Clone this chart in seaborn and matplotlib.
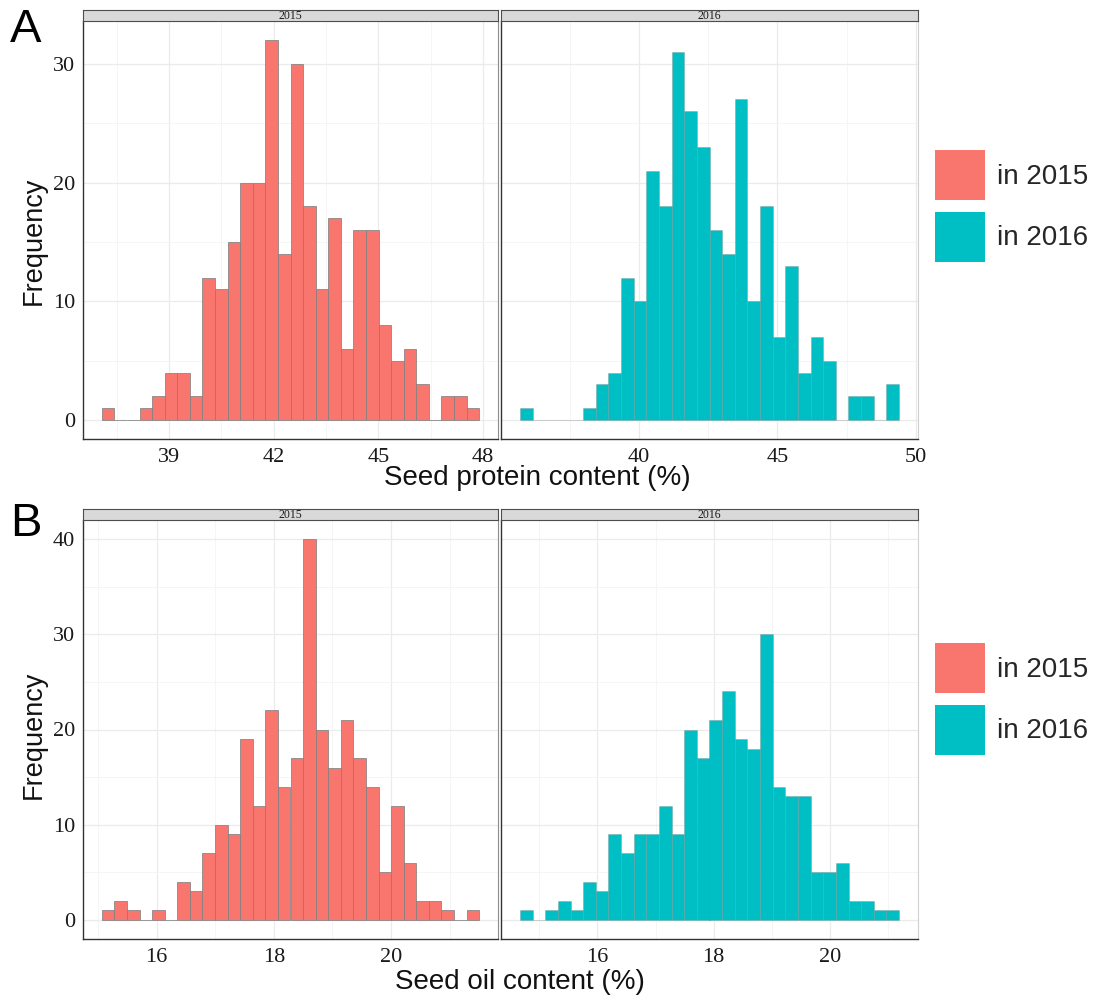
import numpy as np
import pandas as pd
import matplotlib
matplotlib.use("Agg")
import matplotlib.pyplot as plt
from matplotlib.ticker import MultipleLocator
from matplotlib.patches import Patch
import seaborn as sns

# ---------------- data ----------------
years = ["2015", "2016"]
legend_labels = ["in 2015", "in 2016"]

protein_2015_counts = [1, 0, 0, 1, 2, 4, 4, 2, 12, 11, 15, 20, 20, 32, 14, 30, 18, 11, 17, 6, 16, 16, 8, 5, 6, 3, 0, 2, 2, 1]
protein_2016_counts = [1, 0, 0, 0, 0, 1, 3, 4, 12, 10, 21, 18, 31, 26, 23, 16, 14, 27, 10, 18, 7, 13, 4, 7, 5, 0, 2, 2, 0, 3]
oil_2015_counts = [1, 2, 1, 0, 1, 0, 4, 3, 7, 10, 9, 19, 12, 22, 14, 17, 40, 20, 16, 21, 17, 14, 5, 12, 6, 2, 2, 1, 0, 1]
oil_2016_counts = [1, 0, 1, 2, 1, 4, 3, 9, 7, 9, 9, 12, 9, 20, 17, 21, 24, 19, 18, 30, 14, 13, 13, 5, 5, 6, 2, 2, 1, 1]

# lower edge of first bin and bin width (in data units)
protein_bin_low = [37.076, 35.711]
protein_bin_width = [0.3603, 0.4562]
oil_bin_low = [15.064, 14.669]
oil_bin_width = [0.2147, 0.2173]

protein_xticks_step = [3, 5]
oil_xticks_step = [2, 2]

x_titles = ["Seed protein content (%)", "Seed oil content (%)"]
row_tags = ["A", "B"]

# ---------------- style ----------------
sns.set_style("white")
SERIF = ["Liberation Serif", "DejaVu Serif"]
SANS = ["Liberation Sans", "DejaVu Sans"]
plt.rcParams["font.family"] = SANS

COLORS = ["#F8766D", "#00BFC4"]
EDGE = [(0.5, 0.5, 0.5, 0.9), (0.5, 0.5, 0.5, 0.35)]

W, H = 1100, 1001
fig = plt.figure(figsize=(W / 100, H / 100), dpi=100)
fig.patch.set_facecolor("white")


def fax(x0, y0, x1, y1):
    """pixel box (top-left origin) -> axes"""
    return fig.add_axes([x0 / W, 1 - y1 / H, (x1 - x0) / W, (y1 - y0) / H])


rows = [
    dict(counts=[protein_2015_counts, protein_2016_counts], low=protein_bin_low,
         width=protein_bin_width, step=protein_xticks_step, y0=21, y1=439,
         strip=(10, 21), title_xy=(537, 485), freq_y=241, tag_y=30, legend_top=150),
    dict(counts=[oil_2015_counts, oil_2016_counts], low=oil_bin_low,
         width=oil_bin_width, step=oil_xticks_step, y0=520, y1=939,
         strip=(509, 520), title_xy=(520, 989), freq_y=735, tag_y=524, legend_top=643),
]
col_x = [(83, 498), (501, 918)]

for r, row in enumerate(rows):
    ymax = max(max(c) for c in row["counts"])
    ylim = (-0.05 * ymax, 1.05 * ymax)
    for c in range(2):
        counts = np.array(row["counts"][c], dtype=float)
        nb = len(counts)
        lo = row["low"][c]
        hi = lo + row["width"][c] * nb
        edges = np.linspace(lo, hi, nb + 1)
        centers = (edges[:-1] + edges[1:]) / 2
        df = pd.DataFrame({"x": centers, "n": counts})
        x0, x1 = col_x[c]
        ax = fax(x0, row["y0"], x1, row["y1"])
        ax.set_axisbelow(True)
        sns.histplot(data=df, x="x", weights="n", bins=nb, binrange=(lo, hi), ax=ax,
                     color=COLORS[c], alpha=1, edgecolor=EDGE[c], linewidth=0.6)
        span = hi - lo
        ax.set_xlim(lo - 0.05 * span, hi + 0.05 * span)
        ax.set_ylim(*ylim)
        ax.xaxis.set_major_locator(MultipleLocator(row["step"][c]))
        ax.xaxis.set_minor_locator(MultipleLocator(row["step"][c] / 2))
        ax.yaxis.set_major_locator(MultipleLocator(10))
        ax.yaxis.set_minor_locator(MultipleLocator(5))
        ax.grid(True, which="major", color="#EBEBEB", linewidth=0.9)
        ax.grid(True, which="minor", color="#F4F4F4", linewidth=0.6)
        ax.set_xlabel("")
        ax.set_ylabel("")
        ax.tick_params(axis="both", which="major", length=2.5, width=0.8,
                       color="#333333", labelsize=16, pad=3, labelcolor="#1a1a1a")
        ax.tick_params(axis="x", which="major", pad=4)
        ax.tick_params(axis="both", which="minor", length=0)
        for lab in ax.get_xticklabels() + ax.get_yticklabels():
            lab.set_fontfamily(SERIF)
        if c == 1:
            ax.tick_params(axis="y", which="both", left=False, labelleft=False)
        ax.spines["left"].set_color("#333333")
        ax.spines["bottom"].set_color("#333333")
        ax.spines["left"].set_linewidth(1.0)
        ax.spines["bottom"].set_linewidth(1.0)
        ax.spines["top"].set_color("#D0D0D0")
        ax.spines["right"].set_color("#8C8C8C" if c == 0 else "#D0D0D0")
        ax.spines["top"].set_linewidth(0.8)
        ax.spines["right"].set_linewidth(0.8)

        # strip
        s0, s1 = row["strip"]
        sax = fax(x0, s0, x1, s1)
        sax.set_facecolor("#D9D9D9")
        sax.set_xticks([])
        sax.set_yticks([])
        for sp in sax.spines.values():
            sp.set_color("#4D4D4D")
            sp.set_linewidth(0.8)
        sax.text(0.5, 0.42, years[c], ha="center", va="center", fontsize=8.5,
                 family=SERIF, color="#1a1a1a", transform=sax.transAxes)

    # axis titles and tag
    tx, ty = row["title_xy"]
    fig.text(tx / W, 1 - ty / H, x_titles[r], ha="center", va="baseline",
             fontsize=20, family=SANS, color="#111111")
    fig.text(34 / W, 1 - row["freq_y"] / H, "Frequency", rotation=90,
             ha="center", va="center", fontsize=19.5, family=SANS, color="#111111")
    fig.text(10 / W, 1 - row["tag_y"] / H, row_tags[r], ha="left", va="center",
             fontsize=34, family=SANS, color="black")

    # legend
    handles = [Patch(facecolor=COLORS[i], edgecolor="none", label=legend_labels[i]) for i in range(2)]
    fig.legend(handles=handles, loc="upper left",
               bbox_to_anchor=(935 / W, 1 - row["legend_top"] / H), frameon=False,
               handlelength=1.8, handleheight=2.39,
               handletextpad=0.43, labelspacing=0.43, borderpad=0, borderaxespad=0,
               prop={"family": SANS, "size": 20})

fig.savefig("out.png", dpi=100, facecolor="white")
